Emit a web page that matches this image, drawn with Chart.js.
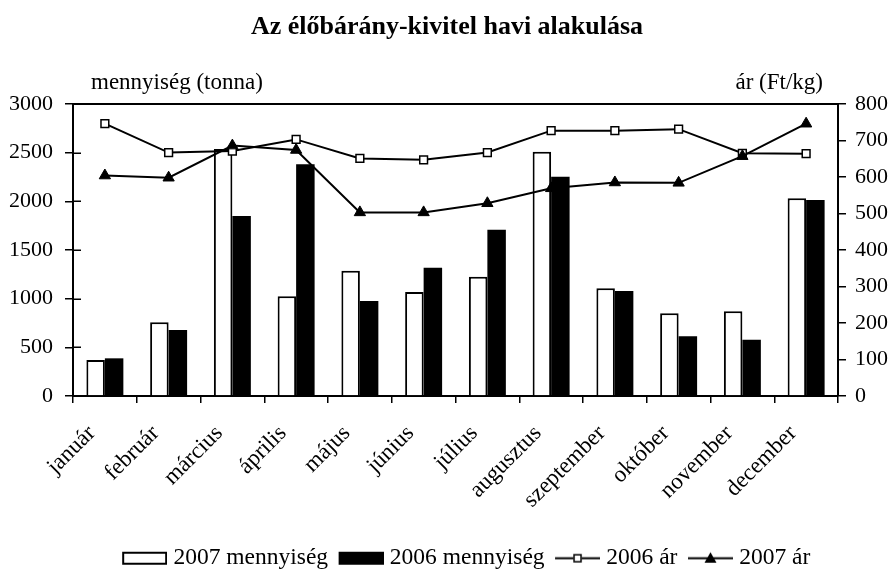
<!DOCTYPE html>
<html>
<head>
<meta charset="utf-8">
<script src="https://cdn.jsdelivr.net/npm/chart.js@4.4.0/dist/chart.umd.min.js"></script>
<style>
html,body{margin:0;padding:0;background:#fff;}
#wrap{width:894px;height:574px;position:relative;}
</style>
</head>
<body>
<div id="wrap"><canvas id="c" width="894" height="574"></canvas></div>
<script>
// ---- data ----
const months = ['január','február','március','április','május','június','július','augusztus','szeptember','október','november','december'];
const qty2007 = [370, 757, 2538, 1024, 1288, 1068, 1226, 2510, 1106, 849, 870, 2031];
const qty2006 = [387, 678, 1849, 2380, 976, 1318, 1709, 2253, 1079, 613, 579, 2014];
const price2006 = [746, 667, 671, 703, 651, 647, 667, 727, 727, 731, 665, 664];
const price2007 = [604, 598, 686, 674, 503, 503, 528, 569, 585, 584, 657, 746];
const leftTicks = [0, 500, 1000, 1500, 2000, 2500, 3000];
const rightTicks = [0, 100, 200, 300, 400, 500, 600, 700, 800];
const titleText = 'Az élőbárány-kivitel havi alakulása';
const leftAxisTitle = 'mennyiség (tonna)';
const rightAxisTitle = 'ár (Ft/kg)';
const seriesNames = ['2007 mennyiség', '2006 mennyiség', '2006 ár', '2007 ár'];

const FONT = "'Liberation Serif', 'Times New Roman', serif";
Chart.defaults.font.family = FONT;
Chart.defaults.color = '#000';

// legend symbol images
function legendImg(kind) {
  const c = document.createElement('canvas');
  c.width = 51; c.height = 17;
  const g = c.getContext('2d');
  const x0 = 6, x1 = 51, cy = 8.5;
  if (kind === 'white' || kind === 'black') {
    g.fillStyle = kind === 'white' ? '#fff' : '#000';
    g.fillRect(x0, 2, 45, 13);
    g.strokeStyle = '#000'; g.lineWidth = 2;
    g.strokeRect(x0 + 1, 3, 43, 11);
  } else {
    g.strokeStyle = '#000'; g.lineWidth = 2;
    g.beginPath(); g.moveTo(x0, cy); g.lineTo(x1, cy); g.stroke();
    const mx = (x0 + x1) / 2;
    if (kind === 'square') {
      g.fillStyle = '#fff';
      g.fillRect(mx - 4, cy - 4, 8, 8);
      g.lineWidth = 1.5;
      g.strokeRect(mx - 3.5, cy - 3.5, 7, 7);
    } else {
      g.fillStyle = '#000';
      g.beginPath();
      g.moveTo(mx, cy - 6); g.lineTo(mx + 6, cy + 4.5); g.lineTo(mx - 6, cy + 4.5);
      g.closePath(); g.fill();
    }
  }
  return c;
}
const legendImgs = [legendImg('white'), legendImg('black'), legendImg('square'), legendImg('tri')];

const framePlugin = {
  id: 'framePlugin',
  afterLayout(chart) {
    const lg = chart.legend;
    if (lg) { lg.left += 19; lg.right += 19; lg.top += 6; lg.bottom += 6; }
  },
  afterDatasetsDraw(chart) {
    const {ctx, chartArea} = chart;
    const ys = chart.scales.y;
    ctx.save();
    ctx.strokeStyle = '#000';
    ctx.lineWidth = 1.5;
    ctx.beginPath();
    ys.ticks.forEach(t => {
      const py = Math.round(ys.getPixelForValue(t.value)) + 0.25;
      ctx.moveTo(chartArea.left, py);
      ctx.lineTo(chartArea.left + 8, py);
    });
    ctx.stroke();
    ctx.restore();
  },
  afterDraw(chart) {
    const {ctx, chartArea} = chart;
    ctx.save();
    ctx.strokeStyle = '#000';
    ctx.lineWidth = 2;
    ctx.beginPath();
    ctx.moveTo(chartArea.left, chartArea.top);
    ctx.lineTo(chartArea.right, chartArea.top);
    ctx.stroke();
    ctx.fillStyle = '#000';
    ctx.font = '23px ' + FONT;
    ctx.textBaseline = 'middle';
    ctx.textAlign = 'left';
    ctx.fillText(leftAxisTitle, chartArea.left + 18, chartArea.top - 21);
    ctx.textAlign = 'right';
    ctx.fillText(rightAxisTitle, chartArea.right - 15, chartArea.top - 21);
    ctx.restore();
  }
};

new Chart(document.getElementById('c'), {
  type: 'bar',
  data: {
    labels: months,
    datasets: [
      { type: 'bar', label: seriesNames[0], data: qty2007, yAxisID: 'y',
        backgroundColor: '#fff', borderColor: '#000', borderWidth: 2,
        categoryPercentage: 0.58, barPercentage: 1.0, order: 2 },
      { type: 'bar', label: seriesNames[1], data: qty2006, yAxisID: 'y',
        backgroundColor: '#000', borderColor: '#000', borderWidth: 0,
        categoryPercentage: 0.58, barPercentage: 1.0, order: 2 },
      { type: 'line', label: seriesNames[2], data: price2006, yAxisID: 'y1',
        borderColor: '#000', borderWidth: 2, tension: 0,
        pointStyle: 'rect', pointRadius: 5.5, pointBackgroundColor: '#fff',
        pointBorderColor: '#000', pointBorderWidth: 1.5, order: 1 },
      { type: 'line', label: seriesNames[3], data: price2007, yAxisID: 'y1',
        borderColor: '#000', borderWidth: 2, tension: 0,
        pointStyle: 'triangle', pointRadius: 6.5, pointBackgroundColor: '#000',
        pointBorderColor: '#000', pointBorderWidth: 1, order: 0 }
    ]
  },
  options: {
    responsive: false,
    animation: false,
    layout: { padding: { left: 0, right: 0, top: 0, bottom: 0 } },
    plugins: {
      tooltip: { enabled: false },
      title: {
        display: true, text: titleText, color: '#000',
        font: { family: FONT, size: 26, weight: 'bold' },
        padding: { top: 11.4, bottom: 61.4 }
      },
      legend: {
        display: true, position: 'bottom',
        labels: {
          usePointStyle: true, pointStyleWidth: 40, padding: 10,
          color: '#000', font: { family: FONT, size: 23.5 },
          generateLabels: () => seriesNames.map((n, i) => ({
            text: n, pointStyle: legendImgs[i], fontColor: '#000',
            fillStyle: '#fff', strokeStyle: '#000', lineWidth: 0,
            hidden: false, datasetIndex: i
          }))
        }
      }
    },
    scales: {
      x: {
        type: 'category',
        afterFit(s) { s.height = 134.5; },
        grid: { display: true, drawOnChartArea: false, drawTicks: true, tickLength: 7,
                offset: true, color: '#000', lineWidth: 1.5 },
        border: { display: true, color: '#000', width: 2 },
        ticks: { color: '#000', font: { family: FONT, size: 23 },
                 minRotation: 45, maxRotation: 45, autoSkip: false,
                 padding: 17, labelOffset: -13 }
      },
      y: {
        position: 'left', min: 0, max: 3000,
        afterFit(s) { s.width = 73; },
        afterBuildTicks(s) { s.ticks = leftTicks.map(v => ({ value: v })); },
        grid: { display: true, drawOnChartArea: false, tickLength: 8, color: '#000', lineWidth: 1.5 },
        border: { display: true, color: '#000', width: 2 },
        ticks: { color: '#000', font: { family: FONT, size: 22 }, padding: 12,
                 callback: v => String(v) }
      },
      y1: {
        position: 'right', min: 0, max: 800,
        afterFit(s) { s.width = 56; },
        afterBuildTicks(s) { s.ticks = rightTicks.map(v => ({ value: v })); },
        grid: { display: true, drawOnChartArea: false, tickLength: 8, color: '#000', lineWidth: 1.5 },
        border: { display: true, color: '#000', width: 2 },
        ticks: { color: '#000', font: { family: FONT, size: 22 }, padding: 9,
                 callback: v => String(v) }
      }
    }
  },
  plugins: [framePlugin]
});
</script>
</body>
</html>
